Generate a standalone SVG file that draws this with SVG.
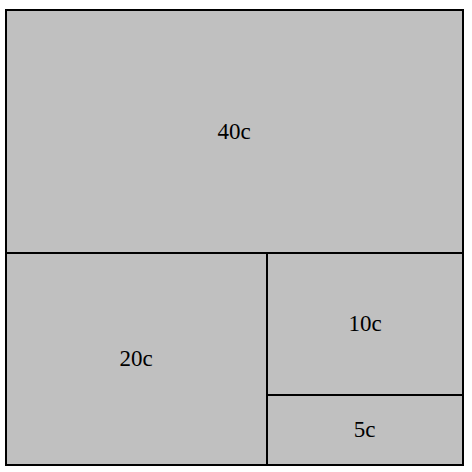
<svg xmlns="http://www.w3.org/2000/svg" width="472" height="472" viewBox="0 0 472 472">
<style>
.cell{fill:#c0c0c0;stroke:#000;stroke-width:2}
.lbl{font-family:"Liberation Serif",serif;font-size:23px;fill:#000;text-anchor:middle}
</style>
<rect width="472" height="472" fill="#fff"/>
<g id="n40"><rect class="cell" x="6" y="10" width="457" height="243"/><text class="lbl" x="234" y="138.5">40c</text></g>
<g id="n20"><rect class="cell" x="6" y="253" width="261" height="212"/><text class="lbl" x="136" y="366">20c</text></g>
<g id="n10"><rect class="cell" x="267" y="253" width="196" height="142"/><text class="lbl" x="365" y="331">10c</text></g>
<g id="n5"><rect class="cell" x="267" y="395" width="196" height="70"/><text class="lbl" x="364.5" y="437">5c</text></g>
<g id="connectors"></g>
</svg>
